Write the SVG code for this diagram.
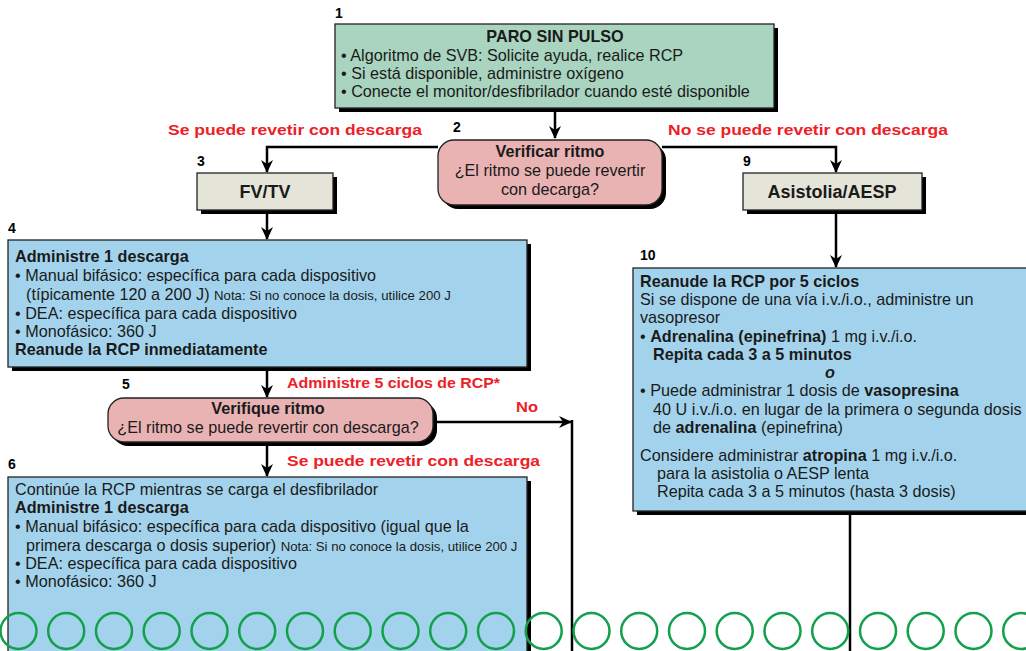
<svg xmlns="http://www.w3.org/2000/svg" width="1026" height="651" viewBox="0 0 1026 651">
<defs>
<marker id="ah" markerUnits="userSpaceOnUse" markerWidth="14" markerHeight="14" refX="12" refY="7" orient="auto">
<path d="M0,1 L13,7 L0,13 L4,7 z" fill="#000"/>
</marker>
<style>
text{font-family:"Liberation Sans",Arial,sans-serif;fill:#1a1a1a;font-size:16.2px}
.b{font-weight:bold}
.num{font-weight:bold;font-size:14px;fill:#000}
.red{font-weight:bold;fill:#ee2027;font-size:15px}
.sm{font-size:13.2px}
.box{stroke:#222;stroke-width:1.3}
.sh{fill:#000}
.con{fill:none;stroke:#000;stroke-width:2.5}
.g{fill:#a9d4bf}.p{fill:#e9b3b4}.t{fill:#e4e4d8}.bl{fill:#a3d3ec}
.c{fill:none;stroke:#12a04a;stroke-width:2.5}
</style>
</defs>
<rect width="1026" height="651" fill="#fff"/>

<g id="connectors">
<path class="con" d="M555,108 L555,138" marker-end="url(#ah)"/>
<path class="con" d="M438,147 L267,147 L267,172" marker-end="url(#ah)"/>
<path class="con" d="M662,147 L836,147 L836,172" marker-end="url(#ah)"/>
<path class="con" d="M267,210 L267,239" marker-end="url(#ah)"/>
<path class="con" d="M836,211 L836,267" marker-end="url(#ah)"/>
<path class="con" d="M267,368 L267,397" marker-end="url(#ah)"/>
<path class="con" d="M433,422 L571,422" marker-end="url(#ah)"/>
<path class="con" d="M572,420 L572,651"/>
<path class="con" d="M267,444 L267,476" marker-end="url(#ah)"/>
<path class="con" d="M850,510 L850,651"/>
</g>

<g id="n1">
<rect class="sh" x="339" y="28" width="439" height="84"/>
<rect class="box g" x="335" y="24" width="439" height="84"/>
<text class="num" x="335" y="18">1</text>
<text class="b" x="555" y="42" text-anchor="middle">PARO SIN PULSO</text>
<text x="341" y="61">• Algoritmo de SVB: Solicite ayuda, realice RCP</text>
<text x="341" y="79">• Si está disponible, administre oxígeno</text>
<text x="341" y="97">• Conecte el monitor/desfibrilador cuando esté disponible</text>
</g>

<g id="n2">
<rect class="sh" x="442" y="144" width="224" height="65" rx="16"/>
<rect class="box p" x="438" y="140" width="224" height="65" rx="16"/>
<text class="num" x="453" y="132">2</text>
<text class="b" x="550" y="157" text-anchor="middle">Verificar ritmo</text>
<text x="550" y="176" text-anchor="middle">¿El ritmo se puede revertir</text>
<text x="550" y="195" text-anchor="middle">con decarga?</text>
</g>
<text class="red" x="168" y="135" textLength="254" lengthAdjust="spacingAndGlyphs">Se puede revetir con descarga</text>
<text class="red" x="668" y="135" textLength="280" lengthAdjust="spacingAndGlyphs">No se puede revetir con descarga</text>

<g id="n3">
<rect class="sh" x="201" y="177" width="136" height="37"/>
<rect class="box t" x="197" y="173" width="136" height="37"/>
<text class="num" x="197" y="166">3</text>
<text class="b" x="265" y="198" text-anchor="middle" style="font-size:18px">FV/TV</text>
</g>

<g id="n9">
<rect class="sh" x="747" y="177" width="179" height="37"/>
<rect class="box t" x="743" y="173" width="179" height="37"/>
<text class="num" x="743" y="166">9</text>
<text class="b" x="832" y="198" text-anchor="middle" style="font-size:18px">Asistolia/AESP</text>
</g>

<g id="n4">
<rect class="sh" x="12" y="244" width="519" height="127"/>
<rect class="box bl" x="8" y="240" width="519" height="127"/>
<text class="num" x="8" y="233">4</text>
<text class="b" x="15" y="262">Administre 1 descarga</text>
<text x="15" y="281">• Manual bifásico: específica para cada dispositivo</text>
<text x="26" y="300">(típicamente 120 a 200 J) <tspan class="sm">Nota: Si no conoce la dosis, utilice 200 J</tspan></text>
<text x="15" y="319">• DEA: específica para cada dispositivo</text>
<text x="15" y="337">• Monofásico: 360 J</text>
<text class="b" x="15" y="355">Reanude la RCP inmediatamente</text>
</g>

<g id="n5">
<rect class="sh" x="112" y="402" width="325" height="44" rx="16"/>
<rect class="box p" x="108" y="398" width="325" height="44" rx="16"/>
<text class="num" x="122" y="389">5</text>
<text class="b" x="268" y="414" text-anchor="middle">Verifique ritmo</text>
<text x="268" y="433" text-anchor="middle">¿El ritmo se puede revertir con descarga?</text>
</g>
<text class="red" x="287" y="388" textLength="213" lengthAdjust="spacingAndGlyphs">Administre 5 ciclos de RCP*</text>
<text class="red" x="516" y="412" textLength="22" lengthAdjust="spacingAndGlyphs">No</text>
<text class="red" x="287" y="466" textLength="253" lengthAdjust="spacingAndGlyphs">Se puede revetir con descarga</text>

<g id="n6">
<rect class="sh" x="12" y="481" width="519" height="180"/>
<rect class="box bl" x="8" y="477" width="519" height="180"/>
<text class="num" x="8" y="469">6</text>
<text x="15" y="495">Continúe la RCP mientras se carga el desfibrilador</text>
<text class="b" x="15" y="513">Administre 1 descarga</text>
<text x="15" y="532">• Manual bifásico: específica para cada dispositivo (igual que la</text>
<text x="26" y="551">primera descarga o dosis superior) <tspan class="sm">Nota: Si no conoce la dosis, utilice 200 J</tspan></text>
<text x="15" y="569">• DEA: específica para cada dispositivo</text>
<text x="15" y="587">• Monofásico: 360 J</text>
</g>

<g id="n10">
<rect class="sh" x="637" y="272" width="400" height="243"/>
<rect class="box bl" x="633" y="268" width="400" height="243"/>
<text class="num" x="640" y="260">10</text>
<text class="b" x="640" y="287">Reanude la RCP por 5 ciclos</text>
<text x="640" y="305">Si se dispone de una vía i.v./i.o., administre un</text>
<text x="640" y="323">vasopresor</text>
<text x="640" y="342">• <tspan class="b">Adrenalina (epinefrina)</tspan> 1 mg i.v./i.o.</text>
<text class="b" x="653" y="360">Repita cada 3 a 5 minutos</text>
<text class="b" x="830" y="378" font-style="italic" text-anchor="middle">o</text>
<text x="640" y="396">• Puede administrar 1 dosis de <tspan class="b">vasopresina</tspan></text>
<text x="653" y="415">40 U i.v./i.o. en lugar de la primera o segunda dosis</text>
<text x="653" y="433">de <tspan class="b">adrenalina</tspan> (epinefrina)</text>
<text x="640" y="461">Considere administrar <tspan class="b">atropina</tspan> 1 mg i.v./i.o.</text>
<text x="657" y="479">para la asistolia o AESP lenta</text>
<text x="657" y="497">Repita cada 3 a 5 minutos (hasta 3 dosis)</text>
</g>

<g id="circles">
<circle class="c" cx="18.5" cy="631" r="18"/>
<circle class="c" cx="66.2" cy="631" r="18"/>
<circle class="c" cx="114" cy="631" r="18"/>
<circle class="c" cx="161.7" cy="631" r="18"/>
<circle class="c" cx="209.5" cy="631" r="18"/>
<circle class="c" cx="257.2" cy="631" r="18"/>
<circle class="c" cx="305" cy="631" r="18"/>
<circle class="c" cx="352.7" cy="631" r="18"/>
<circle class="c" cx="400.5" cy="631" r="18"/>
<circle class="c" cx="448.2" cy="631" r="18"/>
<circle class="c" cx="496" cy="631" r="18"/>
<circle class="c" cx="543.7" cy="631" r="18"/>
<circle class="c" cx="591.5" cy="631" r="18"/>
<circle class="c" cx="639.2" cy="631" r="18"/>
<circle class="c" cx="687" cy="631" r="18"/>
<circle class="c" cx="734.7" cy="631" r="18"/>
<circle class="c" cx="782.5" cy="631" r="18"/>
<circle class="c" cx="830.2" cy="631" r="18"/>
<circle class="c" cx="878" cy="631" r="18"/>
<circle class="c" cx="925.7" cy="631" r="18"/>
<circle class="c" cx="973.5" cy="631" r="18"/>
<circle class="c" cx="1021.2" cy="631" r="18"/>
</g>
</svg>
